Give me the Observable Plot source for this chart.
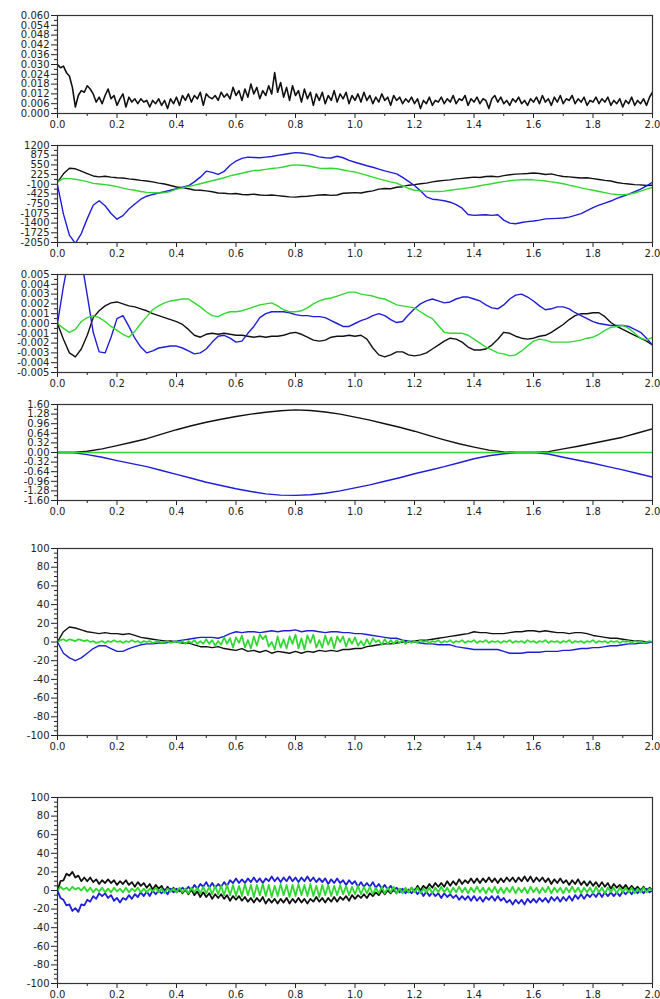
<!DOCTYPE html>
<html>
<head>
<meta charset="utf-8">
<script src="https://cdn.jsdelivr.net/npm/d3@7"></script>
<script src="https://cdn.jsdelivr.net/npm/@observablehq/plot@0.6"></script>
<style>
  html, body { margin: 0; padding: 0; background: #fff; overflow: hidden; }
  #page { position: relative; width: 660px; height: 999px; background: #fff; }
  #page svg { position: absolute; left: 0; }
</style>
</head>
<body>
<div id="page"></div>
<script>
// ---------- axis tick values ----------
const xTicks = [0, 0.2, 0.4, 0.6, 0.8, 1.0, 1.2, 1.4, 1.6, 1.8, 2.0];
const p1Ticks = [0, 0.006, 0.012, 0.018, 0.024, 0.030, 0.036, 0.042, 0.048, 0.054, 0.060];
const p2Ticks = [-2050, -1725, -1400, -1075, -750, -425, -100, 225, 550, 875, 1200];
const p3Ticks = [-0.005, -0.004, -0.003, -0.002, -0.001, 0, 0.001, 0.002, 0.003, 0.004, 0.005];
const p4Ticks = [-1.60, -1.28, -0.96, -0.64, -0.32, 0, 0.32, 0.64, 0.96, 1.28, 1.60];
const p56Ticks = [-100, -80, -60, -40, -20, 0, 20, 40, 60, 80, 100];

// ---------- panel 1 (step 0.01) ----------
const p1Black = [0.030,0.028,0.029,0.025,0.023,0.016,0.004,0.011,0.014,0.013,
0.017,0.015,0.012,0.007,0.010,0.006,0.011,0.015,0.009,0.011,
0.005,0.009,0.012,0.004,0.010,0.007,0.009,0.006,0.009,0.007,
0.008,0.004,0.008,0.006,0.009,0.005,0.008,0.003,0.009,0.006,
0.010,0.005,0.011,0.008,0.012,0.007,0.011,0.009,0.013,0.005,
0.012,0.010,0.009,0.011,0.008,0.013,0.010,0.012,0.009,0.016,
0.011,0.014,0.008,0.015,0.010,0.018,0.012,0.016,0.009,0.014,
0.011,0.017,0.012,0.025,0.013,0.019,0.010,0.016,0.008,0.017,
0.011,0.014,0.007,0.015,0.009,0.013,0.005,0.012,0.008,0.013,
0.006,0.011,0.008,0.014,0.007,0.012,0.009,0.013,0.006,0.011,
0.008,0.012,0.007,0.013,0.008,0.011,0.006,0.010,0.007,0.012,
0.008,0.010,0.005,0.011,0.008,0.010,0.006,0.009,0.007,0.010,
0.006,0.009,0.003,0.008,0.006,0.010,0.005,0.008,0.007,0.010,
0.006,0.009,0.007,0.011,0.006,0.009,0.008,0.011,0.005,0.009,
0.007,0.010,0.006,0.009,0.008,0.003,0.009,0.011,0.007,0.010,
0.006,0.008,0.005,0.009,0.007,0.010,0.006,0.008,0.005,0.009,
0.007,0.010,0.006,0.011,0.007,0.009,0.005,0.010,0.007,0.011,
0.006,0.009,0.008,0.011,0.006,0.009,0.007,0.010,0.005,0.008,
0.007,0.010,0.006,0.009,0.007,0.010,0.005,0.008,0.006,0.009,
0.004,0.008,0.006,0.010,0.005,0.008,0.006,0.009,0.005,0.010,
0.013];

// ---------- panel 2 (step 0.02) ----------
const p2Black = [-30,250,440,420,340,260,180,150,170,140,
120,110,80,60,30,10,-20,-60,-90,-140,
-190,-210,-250,-290,-300,-320,-350,-390,-400,-420,
-410,-440,-450,-430,-460,-470,-460,-480,-500,-520,
-530,-510,-500,-480,-460,-450,-470,-460,-400,-390,
-380,-390,-350,-320,-260,-240,-250,-200,-180,-130,
-110,-80,-60,-20,10,30,50,80,100,120,
140,130,160,170,150,190,220,240,250,260,
280,260,230,250,200,160,150,130,110,120,
90,60,30,10,-40,-70,-90,-110,-120,-140,
-130];
const p2Blue = [-120,-1100,-1800,-2080,-1750,-1250,-800,-650,-820,-1080,
-1270,-1150,-930,-760,-600,-500,-440,-390,-350,-300,
-250,-200,-150,-20,140,340,300,230,330,540,
680,770,810,800,790,810,830,870,900,930,
960,950,920,880,820,790,780,840,790,700,
640,580,520,470,410,350,300,250,130,0,
-140,-320,-520,-600,-620,-650,-700,-780,-900,-1110,
-1140,-1130,-1120,-1140,-1120,-1300,-1400,-1420,-1380,-1350,
-1330,-1300,-1260,-1250,-1240,-1230,-1200,-1140,-1080,-980,
-880,-800,-730,-660,-570,-500,-430,-350,-260,-150,
-30];
const p2Green = [-30,100,90,70,30,-10,-70,-90,-110,-140,
-180,-230,-270,-300,-340,-370,-380,-390,-380,-340,
-260,-220,-170,-130,-80,-30,20,70,120,180,
230,270,320,360,370,400,430,450,480,530,
550,540,520,480,440,430,440,420,380,340,
310,260,200,140,80,30,-20,-60,-150,-240,
-300,-320,-330,-340,-340,-330,-300,-270,-250,-220,
-190,-150,-110,-80,-40,-10,20,40,50,60,
50,30,10,-20,-50,-80,-130,-170,-220,-260,
-300,-340,-380,-420,-440,-450,-430,-390,-330,-260,
-200];

// ---------- panel 3 (step 0.02, values in thousandths) ----------
const p3BlackMilli = [0,-1.6,-3.0,-3.4,-2.6,-1.2,0.6,1.3,1.8,2.1,
2.2,2.0,1.8,1.7,1.5,1.3,1.0,0.8,0.6,0.4,
0.2,-0.1,-0.6,-1.2,-1.4,-1.1,-1.0,-1.1,-1.0,-1.1,
-1.2,-1.2,-1.3,-1.4,-1.3,-1.4,-1.3,-1.3,-1.2,-1.0,
-0.9,-1.1,-1.4,-1.7,-1.8,-1.7,-1.4,-1.3,-1.3,-1.2,
-1.3,-1.2,-1.6,-2.5,-3.2,-3.4,-3.2,-2.9,-2.9,-3.2,
-3.3,-3.2,-3.0,-2.6,-2.2,-1.8,-1.5,-1.6,-1.9,-2.4,
-2.7,-2.7,-2.6,-2.2,-1.6,-0.9,-1.0,-1.3,-1.5,-1.6,
-1.5,-1.3,-1.2,-0.9,-0.5,-0.1,0.4,0.8,1.0,1.0,
1.1,1.1,0.7,0.1,-0.3,-0.6,-0.9,-1.2,-1.5,-1.8,
-2.2];
const p3BlueMilli = [0,3.8,7.0,8.5,6.5,2.9,-0.9,-2.9,-3.0,-1.4,
0.5,0.8,-0.3,-1.5,-2.4,-3.0,-2.8,-2.5,-2.4,-2.3,
-2.3,-2.5,-2.8,-3.1,-3.0,-2.6,-1.9,-1.3,-1.2,-1.5,
-1.9,-1.8,-1.0,-0.3,0.6,1.0,1.2,1.2,1.2,1.1,
0.9,0.8,0.8,0.7,0.7,0.6,0.3,0.0,-0.3,-0.3,
0.0,0.3,0.5,0.8,1.0,0.8,0.4,0.1,0.2,0.9,
1.5,2.0,2.3,2.5,2.3,2.1,2.2,2.5,2.7,2.7,
2.5,2.3,1.9,1.6,1.5,1.9,2.5,2.9,3.0,2.7,
2.3,1.8,1.4,1.5,1.7,1.7,1.5,1.1,0.8,0.5,
0.2,0.0,-0.1,-0.2,-0.2,-0.2,-0.3,-0.6,-0.9,-1.5,
-2.2];
const p3GreenMilli = [0,-0.5,-0.9,-0.6,0.2,0.6,0.8,0.6,0.2,-0.3,
-0.7,-1.1,-1.4,-0.8,0.0,0.7,1.4,1.8,2.1,2.3,
2.4,2.5,2.5,2.1,1.7,1.2,0.8,0.7,1.0,1.2,
1.2,1.3,1.5,1.7,1.9,2.0,2.1,1.8,1.4,1.2,
1.2,1.3,1.6,2.0,2.3,2.5,2.6,2.8,3.0,3.2,
3.2,3.0,2.9,2.8,2.6,2.5,2.2,1.9,1.8,1.7,
1.6,1.2,0.8,0.5,-0.2,-0.9,-1.0,-1.0,-1.0,-1.2,
-1.6,-2.0,-2.4,-2.7,-3.0,-3.1,-3.3,-3.2,-2.8,-2.3,
-1.8,-1.6,-1.7,-1.9,-1.9,-1.9,-1.9,-1.8,-1.7,-1.5,
-1.4,-1.1,-0.7,-0.4,-0.3,-0.2,-0.5,-1.0,-1.5,-1.7,
-1.4];

// ---------- panel 4 (step 0.05) ----------
const p4Black = [0,0,0.04,0.12,0.23,0.34,0.46,0.61,0.76,0.89,
1.01,1.11,1.20,1.28,1.34,1.39,1.42,1.40,1.35,1.28,
1.18,1.08,0.96,0.84,0.71,0.56,0.42,0.29,0.18,0.08,
0.02,0,0,0.03,0.12,0.21,0.31,0.41,0.51,0.65,
0.79];
const p4Blue = [0,0,-0.07,-0.16,-0.27,-0.37,-0.47,-0.60,-0.73,-0.86,
-0.99,-1.10,-1.21,-1.30,-1.38,-1.42,-1.43,-1.41,-1.36,-1.28,
-1.18,-1.08,-0.96,-0.84,-0.71,-0.59,-0.47,-0.34,-0.21,-0.11,
-0.04,0,0,-0.05,-0.16,-0.26,-0.36,-0.47,-0.58,-0.70,
-0.82];
const p4Green = [0,0,0,0,0,0,0,0,0,0,0,0,0,0,0,0,0,0,0,0,0,
0,0,0,0,0,0,0,0,0,0,0,0,0,0,0,0,0,0,0,0];

// ---------- panel 5 ----------
const p5Black = [0,11,16,15,13,11,10,9,10,9,
9,8,9,7,5,4,3,2,1,1,
0,-1,-1,-3,-5,-5,-6,-5,-7,-8,
-9,-7,-10,-9,-11,-9,-12,-10,-11,-12,
-10,-12,-10,-11,-9,-10,-9,-10,-8,-8,
-7,-7,-5,-4,-3,-2,-2,-1,0,0,
1,2,2,3,4,5,6,7,8,9,
11,10,10,9,9,9,10,11,11,12,
12,11,12,11,10,10,9,10,10,9,
7,6,5,4,4,3,2,1,1,0,
0];
const p5Blue = [0,-12,-17,-20,-17,-12,-7,-4,-4,-7,
-10,-10,-7,-5,-3,-2,-2,-1,-1,0,
1,2,3,4,5,5,5,4,6,9,
11,10,11,11,10,11,12,11,12,12,
13,11,12,12,11,10,11,11,10,10,
9,9,8,7,6,5,4,4,2,1,
0,-1,-2,-2,-3,-3,-3,-5,-6,-7,
-8,-8,-8,-8,-8,-10,-12,-12,-12,-11,
-11,-11,-10,-10,-10,-9,-9,-8,-7,-7,
-6,-6,-5,-4,-4,-3,-2,-2,-1,-1,
0];
const p5Green = [0,2,3,1,3,2,1,3,2,1,
2,0,1,-1,0,1,-1,1,0,2,
0,1,-1,1,0,2,0,1,-1,1,
0,1,-1,0,1,-1,0,1,-1,0,
1,-1,1,-2,1,-1,2,-2,1,-2,
3,-2,2,-4,1,-3,5,-2,4,-6,
5,-1,7,-6,2,-7,6,-4,8,3,
7,-5,0,-8,6,-6,3,-7,6,-2,
8,-7,4,-8,7,-1,8,-6,2,-6,
7,-3,5,-7,6,0,6,-5,4,-2,
5,-4,1,-4,3,-3,4,0,2,-3,
3,-2,2,-2,2,-1,2,-2,1,-1,
1,-1,2,0,1,-1,1,0,2,-1,
1,0,2,-1,1,0,2,-1,1,0,
2,-1,1,0,2,-1,1,0,1,-1,
1,0,2,-1,1,0,1,-1,2,0,
1,-1,1,0,2,-1,1,0,1,-1,
1,0,2,-1,1,0,1,-1,1,0,
2,-1,1,0,1,-1,1,0,1,-1,
1,0,1,-1,1,0,1,-1,0,1,
0];

// ---------- panel 6 (step 0.01) ----------
const p6Black = [0,10,11,18,16,20,14,16,10,14,
10,14,9,12,7,11,8,12,8,11,
6,10,7,11,6,9,4,9,5,8,
3,7,1,6,2,5,-1,4,-1,3,
-2,2,-3,1,-4,1,-5,-1,-7,-2,
-7,-3,-9,-4,-8,-4,-9,-5,-11,-6,
-10,-6,-11,-7,-12,-8,-13,-8,-12,-7,
-14,-9,-13,-9,-14,-9,-13,-8,-14,-9,
-13,-8,-13,-9,-14,-9,-12,-7,-12,-8,
-13,-8,-12,-7,-12,-7,-10,-6,-11,-5,
-9,-5,-8,-4,-8,-3,-6,-2,-5,0,
-4,0,-3,1,-3,2,-2,2,-2,3,
-1,5,0,5,2,7,3,8,4,8,
4,10,5,10,6,12,7,11,8,13,
8,13,8,13,9,14,9,13,8,13,
9,14,10,14,9,14,10,15,10,15,
9,14,10,14,9,13,7,12,8,13,
8,11,6,11,7,12,6,10,5,10,
5,9,4,9,4,8,2,7,3,6,
2,6,1,5,1,4,0,4,-1,3,
0];
const p6Blue = [0,-8,-10,-16,-15,-22,-19,-23,-15,-16,
-10,-12,-6,-9,-3,-6,-3,-8,-5,-11,
-8,-13,-8,-10,-5,-9,-4,-7,-2,-6,
-1,-6,0,-4,0,-3,1,-4,2,-2,
2,-1,3,0,4,0,6,2,7,4,
9,3,8,3,7,4,9,5,11,8,
13,8,12,8,13,9,14,9,13,8,
13,10,15,10,14,9,14,10,15,10,
14,9,14,10,15,10,14,9,13,9,
13,7,12,8,13,8,11,6,11,7,
10,4,9,4,8,4,9,3,7,2,
6,1,5,0,3,-2,2,-3,1,-3,
1,-4,0,-6,-1,-6,-2,-6,-3,-8,
-3,-7,-4,-8,-5,-10,-6,-10,-6,-11,
-6,-11,-7,-12,-7,-10,-6,-11,-6,-11,
-8,-13,-10,-15,-10,-14,-10,-15,-9,-13,
-9,-13,-8,-12,-8,-13,-7,-11,-7,-12,
-7,-11,-6,-11,-5,-9,-4,-9,-4,-7,
-3,-7,-2,-7,-2,-6,-2,-6,-2,-6,
-1,-4,0,-4,1,-3,1,-3,2,-2,
0];
const p6Green = [0,4,1,3,0,4,1,3,0,4,
-1,3,-2,2,-1,3,-2,2,-2,3,
-1,2,-2,3,-2,2,-1,3,-2,2,
-2,2,-1,3,-2,2,-3,2,-1,2,
-2,3,-2,2,-3,3,-2,3,-3,4,
-3,4,-4,5,-4,5,-5,6,-5,6,
-6,5,-6,7,-5,6,-7,6,-5,7,
-6,6,-7,5,-6,7,-5,6,-7,6,
-6,7,-5,6,-6,7,-6,5,-7,6,
-5,6,-6,5,-5,6,-4,5,-5,4,
-4,5,-4,4,-3,4,-4,3,-3,4,
-3,3,-2,4,-3,2,-3,3,-2,3,
-2,3,-3,2,-2,3,-3,3,-2,4,
-2,3,-3,3,-2,4,-2,3,-3,3,
-2,4,-2,3,-3,3,-2,4,-3,3,
-3,3,-2,4,-3,3,-2,3,-3,4,
-2,3,-3,3,-2,4,-3,3,-2,3,
-3,3,-2,4,-2,3,-3,3,-2,3,
-3,4,-2,3,-3,3,-2,3,-3,3,
-2,3,-2,3,-3,2,-2,3,-2,2,
0];

// ---------- drawing ----------
const BLACK = "#111111", BLUE = "#1e1ed8", GREEN = "#2fd82f";
const xMinor = d3.range(1, 20, 2).map(i => i / 10);
const fmt = n => (d => d.toFixed(n));

function minorTicks(ticks, parts) {
  const out = [];
  for (let i = 0; i < ticks.length - 1; i++) {
    const a = ticks[i], b = ticks[i + 1];
    for (let k = 1; k < parts; k++) out.push(a + (b - a) * k / parts);
  }
  return out;
}

function panel({top, bottom, ticks, minorParts, format, series, scale = 1, width = 1.4}) {
  const mt = 10, mb = 20;
  const svg = Plot.plot({
    width: 660,
    height: bottom - top + mt + mb,
    marginTop: mt, marginBottom: mb, marginLeft: 57, marginRight: 8,
    style: {fontFamily: "'DejaVu Sans', sans-serif", fontSize: "10px", color: "#222", background: "transparent"},
    x: {domain: [0, 2]},
    y: {domain: [ticks[0], ticks[ticks.length - 1]]},
    marks: [
      ...series.map(s => Plot.line(s.values, {
        x: (d, i) => i * s.step,
        y: d => d * scale,
        stroke: s.color, strokeWidth: s.width ?? width, clip: true
      })),
      Plot.axisX(xTicks, {tickSize: 5, tickPadding: 2, tickFormat: fmt(1), label: null}),
      Plot.axisX(xMinor, {tickSize: 3, fill: "none", label: null}),
      Plot.axisY(ticks, {tickSize: 6, tickPadding: 2, tickFormat: format, label: null}),
      Plot.axisY(minorTicks(ticks, minorParts), {tickSize: 3, fill: "none", label: null}),
      Plot.frame({stroke: "#333", strokeWidth: 1.2})
    ]
  });
  svg.style.top = (top - mt) + "px";
  document.getElementById("page").appendChild(svg);
}

panel({top: 15, bottom: 113, ticks: p1Ticks, minorParts: 2, format: fmt(3), width: 1.6,
  series: [{values: p1Black, step: 0.01, color: BLACK}]});
panel({top: 145, bottom: 242, ticks: p2Ticks, minorParts: 2, format: fmt(0),
  series: [{values: p2Black, step: 0.02, color: BLACK},
           {values: p2Blue, step: 0.02, color: BLUE},
           {values: p2Green, step: 0.02, color: GREEN}]});
panel({top: 274, bottom: 372, ticks: p3Ticks, minorParts: 2, format: fmt(3), scale: 0.001,
  series: [{values: p3BlackMilli, step: 0.02, color: BLACK},
           {values: p3BlueMilli, step: 0.02, color: BLUE},
           {values: p3GreenMilli, step: 0.02, color: GREEN}]});
panel({top: 404, bottom: 500, ticks: p4Ticks, minorParts: 2, format: fmt(2),
  series: [{values: p4Black, step: 0.05, color: BLACK},
           {values: p4Blue, step: 0.05, color: BLUE},
           {values: p4Green, step: 0.05, color: GREEN}]});
panel({top: 548, bottom: 735, ticks: p56Ticks, minorParts: 4, format: fmt(0),
  series: [{values: p5Black, step: 0.02, color: BLACK},
           {values: p5Blue, step: 0.02, color: BLUE},
           {values: p5Green, step: 0.01, color: GREEN, width: 1.7}]});
panel({top: 797, bottom: 983, ticks: p56Ticks, minorParts: 4, format: fmt(0), width: 1.8,
  series: [{values: p6Black, step: 0.01, color: BLACK},
           {values: p6Blue, step: 0.01, color: BLUE},
           {values: p6Green, step: 0.01, color: GREEN}]});
</script>
</body>
</html>
